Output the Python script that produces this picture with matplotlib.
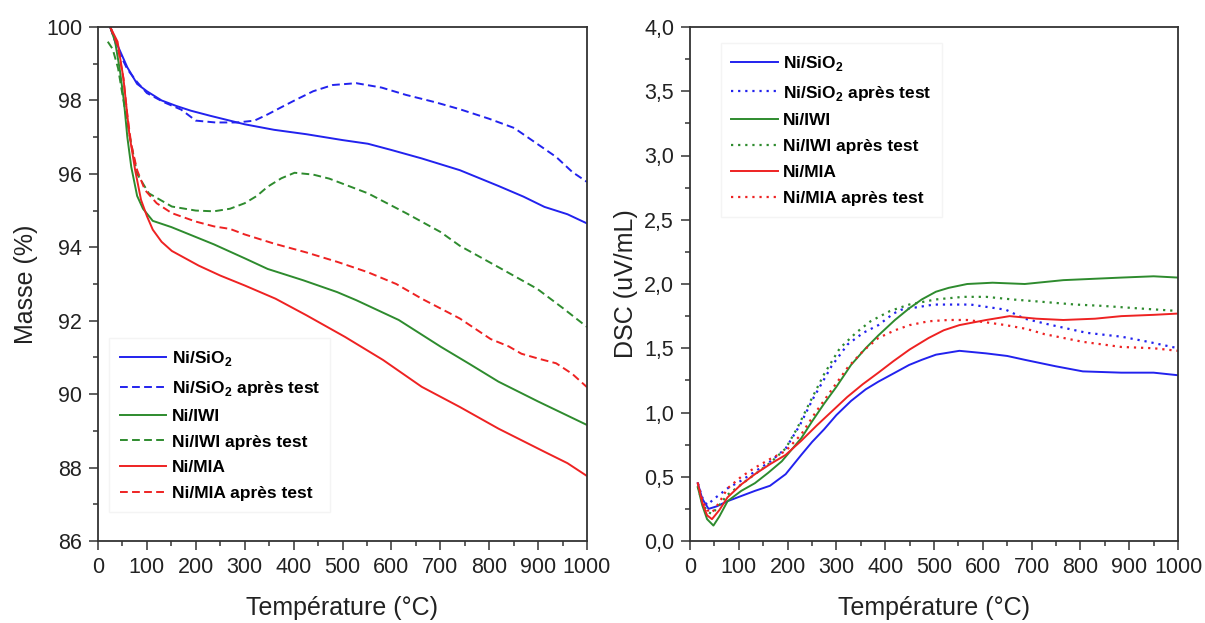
#!/usr/bin/env python3
# TGA (masse) + DSC of Ni catalysts, fresh vs après test.
import matplotlib; matplotlib.use("Agg")
import matplotlib.pyplot as plt
from matplotlib.ticker import MultipleLocator, FuncFormatter

plt.rcParams["font.family"] = ["Liberation Sans", "DejaVu Sans"]
plt.rcParams["mathtext.fontset"] = "custom"
plt.rcParams["mathtext.rm"] = "Liberation Sans:bold"
plt.rcParams["mathtext.bf"] = "Liberation Sans:bold"

# ---- TGA (left) : temperature (°C), masse (%)
tga_sio2_T = [25, 40, 60, 80, 100, 130, 160, 190, 230, 300, 360, 426, 500, 552, 600, 662, 740, 819, 870, 913, 960, 1000]
tga_sio2_m = [100, 99.5, 98.9, 98.45, 98.25, 98.0, 97.85, 97.72, 97.58, 97.35, 97.2, 97.08, 96.92, 96.82, 96.65, 96.42, 96.1, 95.67, 95.38, 95.1, 94.9, 94.65]
tga_sio2a_T = [25, 40, 60, 80, 100, 135, 170, 200, 240, 285, 320, 347, 380, 402, 440, 480, 528, 580, 630, 690, 740, 800, 851, 900, 937, 970, 1000]
tga_sio2a_m = [100, 99.4, 98.85, 98.5, 98.2, 97.95, 97.75, 97.45, 97.4, 97.4, 97.45, 97.62, 97.85, 98.0, 98.25, 98.42, 98.47, 98.35, 98.15, 97.95, 97.76, 97.5, 97.25, 96.8, 96.46, 96.05, 95.78]
tga_iwi_T = [25, 35, 45, 53, 60, 68, 80, 92, 112, 150, 237, 300, 347, 420, 489, 528, 615, 701, 760, 819, 900, 1000]
tga_iwi_m = [100, 99.6, 98.8, 97.98, 97.0, 96.19, 95.4, 95.05, 94.72, 94.55, 94.08, 93.7, 93.41, 93.1, 92.78, 92.56, 92.02, 91.29, 90.82, 90.34, 89.8, 89.16]
tga_iwia_T = [20, 30, 41, 52, 64, 80, 104, 151, 200, 237, 270, 300, 325, 347, 375, 402, 440, 473, 552, 630, 700, 740, 820, 898, 950, 1000]
tga_iwia_m = [99.6, 99.4, 98.88, 98.0, 97.09, 96.0, 95.47, 95.11, 95.0, 94.98, 95.05, 95.2, 95.4, 95.65, 95.88, 96.03, 95.98, 95.87, 95.47, 94.93, 94.42, 94.04, 93.45, 92.87, 92.35, 91.83]
tga_mia_T = [25, 40, 52, 64, 76, 88, 100, 112, 130, 151, 206, 250, 300, 363, 426, 505, 583, 662, 740, 819, 913, 960, 1000]
tga_mia_m = [100, 99.6, 98.6, 97.09, 96.1, 95.29, 94.85, 94.48, 94.15, 93.9, 93.5, 93.23, 92.96, 92.6, 92.15, 91.56, 90.93, 90.2, 89.65, 89.06, 88.43, 88.12, 87.77]
tga_miaa_T = [25, 40, 52, 60, 68, 80, 96, 120, 151, 200, 237, 270, 300, 360, 426, 490, 552, 610, 662, 740, 803, 840, 866, 900, 937, 970, 1000]
tga_miaa_m = [100, 99.5, 98.6, 97.6, 96.8, 96.1, 95.56, 95.2, 94.93, 94.7, 94.57, 94.5, 94.35, 94.1, 93.86, 93.6, 93.32, 93.0, 92.6, 92.06, 91.5, 91.3, 91.1, 90.97, 90.84, 90.55, 90.19]

# ---- DSC (right) : temperature (°C), DSC (uV/mL)
dsc_sio2_T = [16, 25, 38, 55, 77, 105, 133, 164, 196, 228, 250, 275, 300, 330, 360, 386, 420, 449, 475, 504, 552, 607, 650, 686, 749, 805, 884, 950, 1000]
dsc_sio2_v = [0.45, 0.33, 0.25, 0.27, 0.31, 0.35, 0.39, 0.43, 0.52, 0.67, 0.77, 0.87, 0.98, 1.09, 1.18, 1.24, 1.31, 1.37, 1.41, 1.45, 1.48, 1.46, 1.44, 1.41, 1.36, 1.32, 1.31, 1.31, 1.29]
dsc_sio2a_T = [16, 25, 35, 50, 77, 105, 133, 165, 196, 225, 251, 290, 323, 355, 386, 417, 433, 500, 575, 647, 686, 730, 765, 813, 884, 939, 1000]
dsc_sio2a_v = [0.45, 0.34, 0.28, 0.33, 0.41, 0.47, 0.54, 0.62, 0.72, 0.9, 1.1, 1.36, 1.53, 1.62, 1.68, 1.77, 1.8, 1.84, 1.84, 1.8, 1.73, 1.69, 1.66, 1.62, 1.59, 1.55, 1.5]
dsc_iwi_T = [16, 25, 35, 48, 60, 77, 105, 133, 160, 188, 228, 250, 275, 300, 330, 360, 386, 420, 449, 475, 504, 530, 568, 620, 686, 765, 884, 950, 1000]
dsc_iwi_v = [0.42, 0.28, 0.17, 0.12, 0.19, 0.31, 0.39, 0.45, 0.53, 0.62, 0.8, 0.93, 1.07, 1.2, 1.37, 1.5, 1.6, 1.72, 1.81, 1.88, 1.94, 1.97, 2.0, 2.01, 2.0, 2.03, 2.05, 2.06, 2.05]
dsc_iwia_T = [16, 25, 35, 45, 60, 77, 105, 133, 165, 196, 220, 243, 275, 307, 340, 370, 410, 449, 504, 560, 607, 660, 726, 790, 844, 920, 1000]
dsc_iwia_v = [0.42, 0.3, 0.23, 0.21, 0.28, 0.36, 0.44, 0.52, 0.61, 0.72, 0.88, 1.06, 1.3, 1.5, 1.62, 1.71, 1.79, 1.84, 1.88, 1.9, 1.9, 1.88, 1.86, 1.84, 1.83, 1.81, 1.79]
dsc_mia_T = [16, 25, 35, 45, 60, 77, 105, 133, 165, 196, 228, 260, 291, 322, 354, 386, 417, 450, 489, 520, 552, 607, 655, 710, 765, 830, 884, 950, 1000]
dsc_mia_v = [0.45, 0.3, 0.2, 0.17, 0.24, 0.34, 0.44, 0.52, 0.6, 0.67, 0.78, 0.9, 1.01, 1.12, 1.22, 1.31, 1.4, 1.49, 1.58, 1.64, 1.68, 1.72, 1.75, 1.73, 1.72, 1.73, 1.75, 1.76, 1.77]
dsc_miaa_T = [16, 25, 35, 45, 60, 77, 105, 133, 165, 196, 228, 259, 291, 323, 355, 386, 420, 450, 489, 530, 568, 610, 647, 690, 726, 805, 884, 950, 1000]
dsc_miaa_v = [0.45, 0.32, 0.24, 0.22, 0.3, 0.41, 0.5, 0.57, 0.64, 0.7, 0.83, 1.01, 1.18, 1.35, 1.48, 1.58, 1.64, 1.68, 1.71, 1.72, 1.72, 1.7, 1.68, 1.65, 1.61, 1.55, 1.51, 1.5, 1.48]

BLUE, GREEN, RED = "#2222ee", "#2e8b2e", "#ee2222"
labels = ["Ni/SiO$_2$", "Ni/SiO$_2$ après test", "Ni/IWI", "Ni/IWI après test", "Ni/MIA", "Ni/MIA après test"]

fig = plt.figure(figsize=(12.05, 6.23), dpi=100)
axL = fig.add_axes([98/1205, 82/623, 489/1205, 514/623])
axR = fig.add_axes([690/1205, 82/623, 488/1205, 514/623])

dash = (0, (4, 2.2))
dot = (0, (1, 2.2))
lw = 1.4
axL.plot(tga_sio2_T, tga_sio2_m, color=BLUE, lw=lw, label=labels[0])
axL.plot(tga_sio2a_T, tga_sio2a_m, color=BLUE, lw=lw, ls=dash, label=labels[1])
axL.plot(tga_iwi_T, tga_iwi_m, color=GREEN, lw=lw, label=labels[2])
axL.plot(tga_iwia_T, tga_iwia_m, color=GREEN, lw=lw, ls=dash, label=labels[3])
axL.plot(tga_mia_T, tga_mia_m, color=RED, lw=lw, label=labels[4])
axL.plot(tga_miaa_T, tga_miaa_m, color=RED, lw=lw, ls=dash, label=labels[5])

axR.plot(dsc_sio2_T, dsc_sio2_v, color=BLUE, lw=lw, label=labels[0])
axR.plot(dsc_sio2a_T, dsc_sio2a_v, color=BLUE, lw=1.6, ls=dot, label=labels[1])
axR.plot(dsc_iwi_T, dsc_iwi_v, color=GREEN, lw=lw, label=labels[2])
axR.plot(dsc_iwia_T, dsc_iwia_v, color=GREEN, lw=1.6, ls=dot, label=labels[3])
axR.plot(dsc_mia_T, dsc_mia_v, color=RED, lw=lw, label=labels[4])
axR.plot(dsc_miaa_T, dsc_miaa_v, color=RED, lw=1.6, ls=dot, label=labels[5])

axL.set_xlim(0, 1000); axL.set_ylim(86, 100)
axR.set_xlim(0, 1000); axR.set_ylim(0, 4)
axL.yaxis.set_major_locator(MultipleLocator(2)); axL.yaxis.set_minor_locator(MultipleLocator(1))
axR.yaxis.set_major_locator(MultipleLocator(0.5)); axR.yaxis.set_minor_locator(MultipleLocator(0.25))
axR.yaxis.set_major_formatter(FuncFormatter(lambda v, p: f"{v:.1f}".replace(".", ",")))
for ax in (axL, axR):
    ax.xaxis.set_major_locator(MultipleLocator(100)); ax.xaxis.set_minor_locator(MultipleLocator(50))
    ax.tick_params(which="major", direction="out", length=6.5, width=1.1, labelsize=15.5, pad=5, color="#333333", labelcolor="#222222")
    ax.tick_params(which="minor", direction="out", length=3.5, width=1.1, color="#333333")
    ax.tick_params(top=False, right=False, which="both")
    for s in ax.spines.values():
        s.set_linewidth(1.3); s.set_color("#333333")
    ax.set_xlabel("Température (°C)", fontsize=18, labelpad=13, color="#222222")

axL.set_ylabel("Masse (%)", fontsize=18, labelpad=6, color="#222222")
axR.set_ylabel("DSC (uV/mL)", fontsize=18, labelpad=4, color="#222222")

legkw = dict(prop={"weight": "bold", "size": 12.5}, handlelength=2.7, handletextpad=0.3,
             labelspacing=0.62, frameon=True, fancybox=False, edgecolor="#f2f2f2", borderpad=0.6)
axL.legend(loc="lower left", bbox_to_anchor=(0.005, 0.04), **legkw)
axR.legend(loc="upper left", bbox_to_anchor=(0.045, 0.985), **legkw)

plt.savefig("out.png", dpi=100)
print("[saved] out.png")
